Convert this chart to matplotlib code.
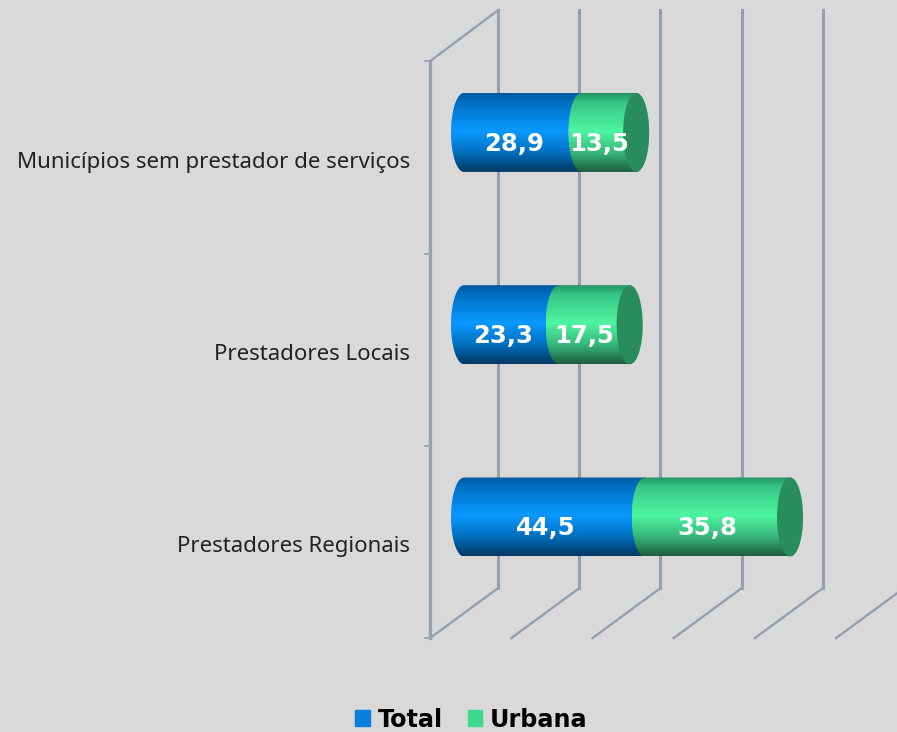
import numpy as np
import matplotlib
matplotlib.use('Agg')
import matplotlib.pyplot as plt
from matplotlib.colors import LinearSegmentedColormap
from matplotlib.patches import Ellipse, Patch, Polygon

plt.rcParams['font.family'] = ['DejaVu Sans']

categorias = ['Prestadores Regionais', 'Prestadores Locais', 'Municípios sem prestador de serviços']
total = [44.5, 23.3, 28.9]
urbana = [35.8, 17.5, 13.5]
rotulos_total = ['44,5', '23,3', '28,9']
rotulos_urbana = ['35,8', '17,5', '13,5']
grade = [0, 20, 40, 60, 80, 100]

fundo = '#d9d9d9'
cor_grade = '#94a0b0'
cor_total = [(0, '#00589c'), (0.12, '#0070c4'), (0.48, '#0a98ff'), (0.75, '#0070c0'), (1, '#003864')]
cor_urbana = [(0, '#259262'), (0.12, '#38c786'), (0.48, '#4df5a0'), (0.75, '#38b87c'), (1, '#1c5f3c')]
cor_tampa = '#288c5c'

# escala: 4.06 px por unidade em x, 192.3 px por categoria em y
esc_x = 4.06
esc_y = 192.3
prof_x = 68 / esc_x
prof_y = 50 / esc_y
raio_x = 13 / esc_x
raio_y = 39.5 / esc_y

fig = plt.figure(figsize=(8.97, 7.32), dpi=100, facecolor=fundo)
ax = fig.add_axes([0, 0, 1, 1])
ax.set_facecolor(fundo)
ax.set_xlim(-430 / esc_x, (897 - 430) / esc_x)
ax.set_ylim((542 - 732) / esc_y, 542 / esc_y)
ax.axis('off')

y_min = -0.5
y_max = 2.5
topo = y_max + prof_y + 0.005

########################################################################
# paredes e chao
ax.plot([0, 0], [y_min, y_max], color=cor_grade, lw=2.4, zorder=1)
ax.plot([0, prof_x], [y_max, topo], color=cor_grade, lw=1.7, zorder=1)
for i in range(4):
    ax.plot([-5 / esc_x, 0], [y_min + i, y_min + i], color=cor_grade, lw=1.2, zorder=1)
for g in grade:
    ax.plot([g, g + prof_x], [y_min, y_min + prof_y], color=cor_grade, lw=1.7, zorder=1)
    ax.plot([g + prof_x, g + prof_x], [y_min + prof_y, topo], color=cor_grade, lw=2.2, zorder=1)


########################################################################
def cilindro(ini, fim, yc, cores, z):
    t = np.linspace(np.pi / 2, 3 * np.pi / 2, 40)
    esq = np.column_stack([ini + raio_x * np.cos(t), yc + raio_y * np.sin(t)])
    t2 = np.linspace(-np.pi / 2, np.pi / 2, 40)
    dir_ = np.column_stack([fim + raio_x * np.cos(t2), yc + raio_y * np.sin(t2)])
    forma = Polygon(np.vstack([esq, dir_]), closed=True, facecolor='none',
                    edgecolor='none', zorder=z + 0.1)
    ax.add_patch(forma)
    cmap = LinearSegmentedColormap.from_list('c', cores)
    grad = np.linspace(0, 1, 200).reshape(-1, 1)
    im = ax.imshow(grad, cmap=cmap, aspect='auto', zorder=z, interpolation='bilinear',
                   extent=[ini - raio_x, fim + raio_x, yc - raio_y, yc + raio_y])
    im.set_clip_path(forma)


lims = (ax.get_xlim(), ax.get_ylim())
for i in range(len(categorias)):
    yc = i + prof_y / 2
    x0 = prof_x / 2
    x1 = x0 + total[i]
    x2 = x1 + urbana[i]
    cilindro(x0, x1, yc, cor_total, 3)
    cilindro(x1, x2, yc, cor_urbana, 4)
    ax.add_patch(Ellipse((x2, yc), 2 * raio_x, 2 * raio_y, facecolor=cor_tampa,
                         edgecolor='none', zorder=5))
    ax.annotate(rotulos_total[i], (x0 + total[i] / 2, yc), xytext=(-6, -8),
                textcoords='offset points', ha='center', va='center',
                color='white', fontsize=17.5, fontweight='bold', zorder=6)
    ax.annotate(rotulos_urbana[i], (x1 + urbana[i] / 2, yc), xytext=(-7, -8),
                textcoords='offset points', ha='center', va='center',
                color='white', fontsize=17.5, fontweight='bold', zorder=6)
    ax.annotate(categorias[i], (0, i), xytext=(-14.4, -3.5), textcoords='offset points',
                ha='right', va='center', color='#222222', fontsize=16,
                family='Noto Sans')
ax.set_xlim(lims[0])
ax.set_ylim(lims[1])

########################################################################
leg = fig.legend(handles=[Patch(color='#0a7fe0', label='Total'), Patch(color='#3dd98c', label='Urbana')],
                 loc='lower center', bbox_to_anchor=(0.5255, -0.029), ncol=2, frameon=False,
                 prop={'size': 17.2, 'weight': 'bold'}, handlelength=0.62, handleheight=0.65,
                 handletextpad=0.3, columnspacing=1.05)

fig.savefig('out.png', dpi=100, facecolor=fundo)
